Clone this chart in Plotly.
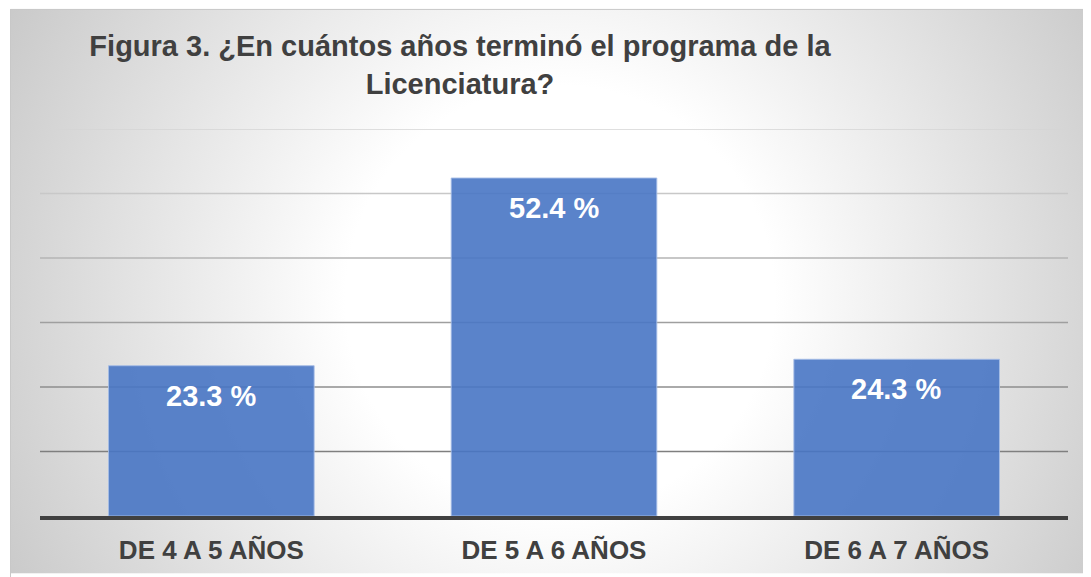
import base64
import plotly.graph_objects as go

# ---- data ----
categories = ["DE 4 A 5 AÑOS", "DE 5 A 6 AÑOS", "DE 6 A 7 AÑOS"]
values = [23.3, 52.4, 24.3]
value_labels = [f"{v} %" for v in values]
title_text = "Figura 3. ¿En cuántos años terminó el programa de la<br>Licenciatura?"
gridline_values = [10, 20, 30, 40, 50, 60]
gridline_colors = ["#7f7f7f", "#8e8e8e", "#9f9f9f", "#b4b4b4", "#c8c8c8", "#d4d4d4"]

# page body has an 8px margin: figure occupies page x 8..1091, y 8..577
W, H = 1083, 569
ML, MR, MT, MB = 32, 23, 121, 58
plot_w = W - ML - MR
plot_h = H - MT - MB

# radial gradient background (chart area)
bx0, by0 = 2, 0
bw, bh = W - bx0, H - by0
svg = f'''<svg xmlns="http://www.w3.org/2000/svg" width="{bw}" height="{bh}" viewBox="0 0 {bw} {bh}" preserveAspectRatio="none">
<defs><radialGradient id="g" gradientUnits="userSpaceOnUse" cx="{552-bx0}" cy="{292-by0}" r="650">
<stop offset="0" stop-color="#ffffff"/><stop offset="0.33" stop-color="#ffffff"/><stop offset="1" stop-color="#c6c6c6"/>
</radialGradient></defs>
<rect x="0" y="0" width="{bw}" height="{bh}" fill="url(#g)"/>
</svg>'''
src = "data:image/svg+xml;base64," + base64.b64encode(svg.encode()).decode()

px2x = lambda p: (p - ML) / plot_w
py2y = lambda p: (H - MB - p) / plot_h

fig = go.Figure()
fig.add_trace(go.Bar(
    x=categories, y=values,
    marker=dict(color="rgba(72,117,196,0.9)", line=dict(color="rgba(165,188,230,0.9)", width=1)),
    width=0.6, hoverinfo="skip",
))

for c, v, t in zip(categories, values, value_labels):
    fig.add_annotation(x=c, y=v, text=f"<b>{t}</b>", showarrow=False, yanchor="top",
                       yshift=-12, font=dict(family="Liberation Sans, Arial", size=29, color="white"))

for gv, gc in zip(gridline_values, gridline_colors):
    fig.add_shape(type="line", xref="paper", yref="y", x0=0, x1=1, y0=gv, y1=gv,
                  line=dict(color=gc, width=1.5), layer="below")

fig.add_shape(type="rect", xref="paper", yref="paper", x0=px2x(bx0 + 0.5), x1=px2x(W + 5),
              y0=py2y(H + 5), y1=py2y(by0 + 0.5), line=dict(color="#c8c8c8", width=1), layer="below")

fig.add_layout_image(dict(source=src, xref="paper", yref="paper", x=px2x(bx0), y=py2y(by0),
                          sizex=bw / plot_w, sizey=bh / plot_h, sizing="stretch",
                          xanchor="left", yanchor="top", layer="below"))

fig.update_layout(
    width=W, height=H,
    margin=dict(l=ML, r=MR, t=MT, b=MB),
    paper_bgcolor="white", plot_bgcolor="rgba(0,0,0,0)",
    showlegend=False,
    title=dict(text=f"<b>{title_text}</b>", x=452 / W, xanchor="center", y=1 - 48 / H, yanchor="top",
               font=dict(family="Liberation Sans, Arial", size=29, color="#404040")),
    bargap=0.4,
    xaxis=dict(showline=True, linecolor="#404040", linewidth=4, ticks="", showgrid=False,
               tickfont=dict(family="Liberation Sans, Arial", size=26, color="#404040"),
               ticklabelstandoff=8),
    yaxis=dict(range=[0, 60], showticklabels=False, showgrid=False, zeroline=False, ticks=""),
)
fig.update_xaxes(tickprefix="<b>", ticksuffix="</b>")

fig.write_html("out.html")
